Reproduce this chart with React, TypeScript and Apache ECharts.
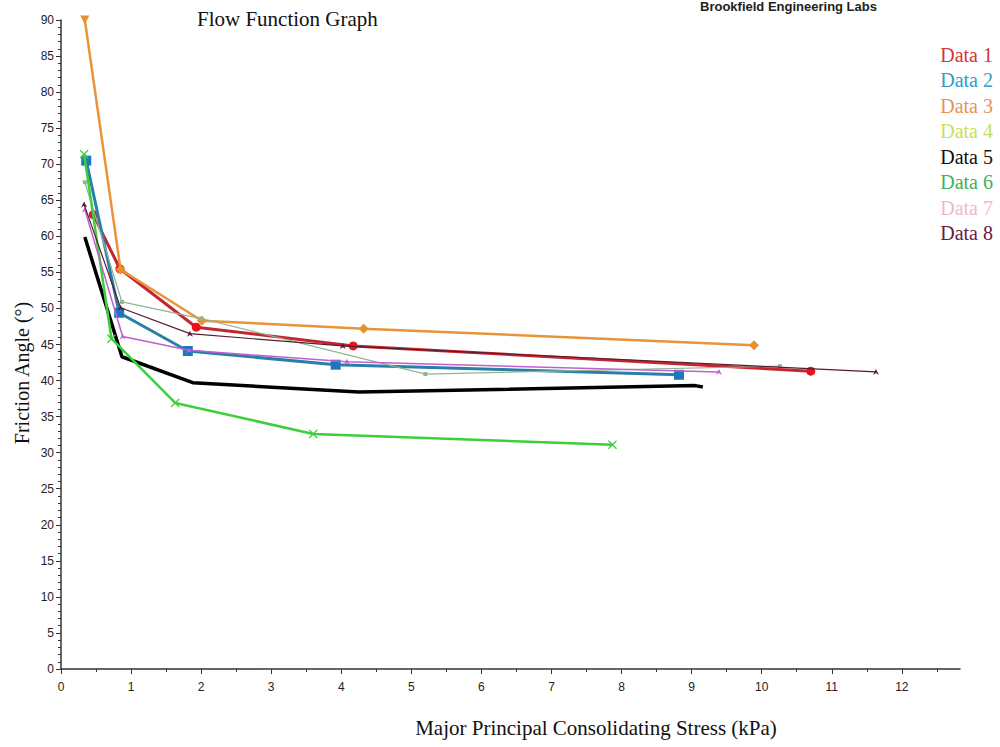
import React, { useEffect, useRef } from "react";
import * as echarts from "echarts";

const seriesNames = ["Data 1", "Data 2", "Data 3", "Data 4", "Data 5", "Data 6", "Data 7", "Data 8"];

const data1: [number, number][] = [[0.46, 63.0], [0.84, 55.5], [1.93, 47.4], [4.17, 44.8], [10.7, 41.3]];
const data2: [number, number][] = [[0.36, 70.5], [0.83, 49.4], [1.81, 44.1], [3.92, 42.2], [8.82, 40.8]];
const data3: [number, number][] = [[0.34, 90.0], [0.85, 55.4], [2.01, 48.3], [4.32, 47.2], [9.89, 44.9]];
const data4: [number, number][] = [[0.34, 67.5], [0.87, 50.9], [2.0, 48.6], [5.2, 40.9], [10.26, 42.0]];
const data5: [number, number][] = [[0.34, 59.9], [0.87, 43.3], [1.88, 39.7], [4.25, 38.4], [9.05, 39.3], [9.16, 39.1]];
const data6: [number, number][] = [[0.33, 71.4], [0.72, 45.8], [1.63, 36.9], [3.6, 32.6], [7.87, 31.1]];
const data7: [number, number][] = [[0.34, 63.7], [0.88, 46.1], [1.83, 44.2], [4.08, 42.6], [9.39, 41.2]];
const data8: [number, number][] = [[0.33, 64.4], [0.85, 50.1], [1.84, 46.5], [4.02, 44.8], [11.63, 41.2]];

const lineColors = ["#c4262e", "#2a7fa8", "#e8943a", "#8fb592", "#000000", "#3ccf3c", "#c060d0", "#5a1a30"];
const legendColors = ["#d8343a", "#2aa0d0", "#e8905a", "#c8e05a", "#111111", "#40b060", "#f0b8d0", "#6a1a48"];

const xTicks = [0, 1, 2, 3, 4, 5, 6, 7, 8, 9, 10, 11, 12];

const X_SYMBOL = "path://M0,1L1,0L5,4L9,0L10,1L6,5L10,9L9,10L5,6L1,10L0,9L4,5Z";
const ARROW = "path://M5,0L10,10L5,7L0,10Z";

export default function App() {
  const ref = useRef<HTMLDivElement>(null);
  useEffect(() => {
    if (!ref.current) return;
    const chart = echarts.init(ref.current, null, { renderer: "svg" });
    const serif = "Liberation Serif";
    const sans = "Liberation Sans";
    const mk = (
      i: number,
      data: [number, number][],
      width: number,
      symbol: string,
      size: number,
      markerColor?: string
    ) => ({
      name: seriesNames[i],
      type: "line",
      data,
      symbol,
      symbolSize: size,
      showSymbol: symbol !== "none",
      lineStyle: { color: lineColors[i], width },
      itemStyle: { color: markerColor || lineColors[i] },
      z: 2 + i,
    });
    const s3 = mk(2, data3, 2.5, "diamond", 10, "#e8902a") as any;
    s3.data = data3.map((p, k) =>
      k === 0 ? { value: p, symbol: "triangle", symbolRotate: 180, symbolSize: 9 } : p
    );
    chart.setOption({
      animation: false,
      legend: {
        orient: "vertical",
        right: -3,
        top: 37,
        icon: "rect",
        itemWidth: 0,
        itemHeight: 0,
        itemGap: 0,
        align: "right",
        selectedMode: false,
        data: seriesNames.map((n, i) => ({
          name: n,
          textStyle: { color: legendColors[i], fontSize: 20, fontFamily: serif, lineHeight: 25.5 },
        })),
      },
      grid: { left: 61, right: 40, top: 20, bottom: 78, containLabel: false },
      xAxis: {
        type: "value",
        min: 0,
        max: 12.83,
        interval: 1,
        offset: 5,
        axisLine: { show: true, lineStyle: { color: "#333", width: 1.5 } },
        axisTick: { show: true, length: 5, lineStyle: { color: "#333" }, customValues: xTicks },
        minorTick: { show: true, splitNumber: 2, length: 3, lineStyle: { color: "#333" } },
        axisLabel: {
          color: "#222",
          fontFamily: sans,
          fontSize: 12,
          margin: 7,
          customValues: xTicks,
        },
        splitLine: { show: false },
        minorSplitLine: { show: false },
      },
      yAxis: {
        type: "value",
        min: 0,
        max: 90,
        interval: 5,
        offset: 3,
        axisLine: { show: true, lineStyle: { color: "#333", width: 1.5 } },
        axisTick: { show: true, length: 5, lineStyle: { color: "#333" } },
        minorTick: { show: true, splitNumber: 5, length: 3, lineStyle: { color: "#333" } },
        axisLabel: { color: "#222", fontFamily: sans, fontSize: 12, margin: 4 },
        splitLine: { show: false },
        minorSplitLine: { show: false },
      },
      graphic: [
        {
          type: "text",
          left: 197,
          top: 8,
          style: { text: "Flow Function Graph", font: `21px "${serif}"`, fill: "#111" },
        },
        {
          type: "text",
          left: 700,
          top: 0,
          style: { text: "Brookfield Engineering Labs", font: `bold 13px "${sans}"`, fill: "#222" },
        },
        {
          type: "text",
          x: 596,
          y: 728,
          style: {
            text: "Major Principal Consolidating Stress (kPa)",
            font: `21px "${serif}"`,
            fill: "#111",
            align: "center",
            verticalAlign: "middle",
          },
        },
        {
          type: "text",
          x: 22,
          y: 373,
          rotation: Math.PI / 2,
          style: {
            text: "Friction Angle (°)",
            font: `20px "${serif}"`,
            fill: "#111",
            align: "center",
            verticalAlign: "middle",
          },
        },
      ],
      series: [
        mk(0, data1, 3, "circle", 9, "#e8141c"),
        mk(1, data2, 3, "rect", 10, "#1a78c0"),
        s3,
        mk(3, data4, 1.2, "rect", 4),
        mk(4, data5, 3.5, "none", 0),
        mk(5, data6, 2.5, X_SYMBOL, 9),
        mk(6, data7, 1.5, ARROW, 6),
        mk(7, data8, 1.2, ARROW, 6),
      ],
    });
    return () => chart.dispose();
  }, []);
  return <div ref={ref} style={{ width: 1000, height: 747, position: "absolute", left: 0, top: 0 }} />;
}
